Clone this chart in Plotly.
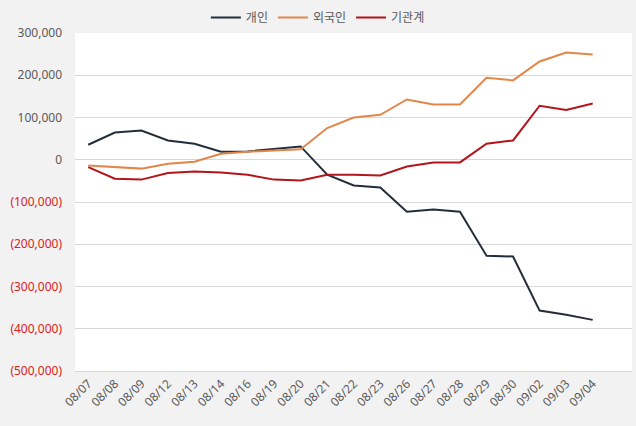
import plotly.graph_objects as go

dates = ["08/07", "08/08", "08/09", "08/12", "08/13", "08/14", "08/16", "08/19", "08/20", "08/21",
         "08/22", "08/23", "08/26", "08/27", "08/28", "08/29", "08/30", "09/02", "09/03", "09/04"]

individual = [35500, 64500, 69000, 45500, 38000, 19000, 19700, 25000, 31500, -35500,
              -61000, -65500, -123000, -118000, -123000, -227000, -229000, -357000, -367000, -379000]
foreign = [-13500, -18000, -21000, -9500, -4700, 14000, 19000, 22000, 25000, 75000,
           100000, 106500, 142700, 131000, 131000, 194000, 187800, 232700, 254000, 249000]
institution = [-17400, -45000, -47000, -31600, -27600, -30000, -35500, -47000, -49000, -35500,
               -35500, -37000, -15800, -6300, -6300, 37900, 45700, 127800, 118000, 133000]

series_names = ["개인", "외국인", "기관계"]
series_colors = ["#252d3b", "#e2874a", "#b4141b"]

tick_vals = [300000, 200000, 100000, 0, -100000, -200000, -300000, -400000, -500000]


def fmt(v):
    if v < 0:
        return '<span style="color:#e0201b">({:,})</span>'.format(-v)
    return "{:,}".format(v)


tick_text = [fmt(v) for v in tick_vals]

font_family = "Noto Sans, Noto Sans CJK KR, sans-serif"

fig = go.Figure()
for name, vals, col in zip(series_names, [individual, foreign, institution], series_colors):
    fig.add_trace(go.Scatter(x=dates, y=vals, mode="lines", name=name,
                             line=dict(color=col, width=2)))

fig.update_layout(
    width=636, height=426,
    paper_bgcolor="#f2f2f2", plot_bgcolor="#ffffff",
    margin=dict(l=75, r=4, t=32, b=55),
    font=dict(family=font_family, size=12, color="#595959"),
    legend=dict(orientation="h", x=0.436, xanchor="center",
                y=1.0, yanchor="bottom",
                font=dict(size=12, color="#595959"), bgcolor="rgba(0,0,0,0)",
                itemwidth=30, tracegroupgap=0),
    showlegend=True,
)
fig.update_xaxes(type="category", range=[-0.5, 20.48], tickangle=-45,
                 tickfont=dict(size=12, color="#595959"), showgrid=False,
                 showline=True, linecolor="#d9d9d9", ticks="")
fig.update_yaxes(range=[-500000, 300000], tickvals=tick_vals, ticktext=tick_text,
                 tickfont=dict(size=12, color="#595959"),
                 showgrid=True, gridcolor="#d9d9d9", gridwidth=1,
                 zeroline=True, zerolinecolor="#d9d9d9", zerolinewidth=1,
                 ticks="", ticklabelstandoff=12)

fig.write_html("out.html")
